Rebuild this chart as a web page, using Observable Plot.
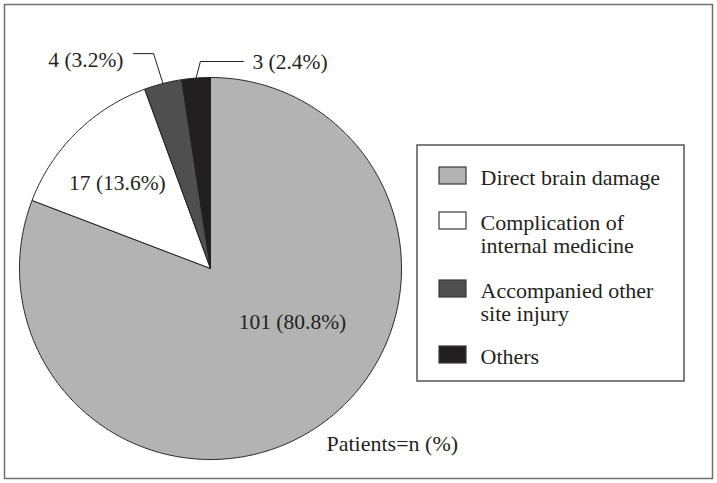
<!DOCTYPE html>
<html><head><meta charset="utf-8">
<script src="https://cdn.jsdelivr.net/npm/d3@7"></script>
<script src="https://cdn.jsdelivr.net/npm/@observablehq/plot@0.6"></script>
<style>body{margin:0;background:#fff} #chart svg{display:block}</style>
</head><body><div id="chart"></div>
<script>
// ---- data ----
const categories = ["Direct brain damage", "Complication of internal medicine", "Accompanied other site injury", "Others"];
const legendLabels = ["Direct brain damage", "Complication of\ninternal medicine", "Accompanied other\nsite injury", "Others"];
const counts = [101, 17, 4, 3];
const percents = [80.8, 13.6, 3.2, 2.4];
const sliceColors = ["#b3b3b3", "#ffffff", "#4f4f4f", "#231f20"];
const note = "Patients=n (%)";

// ---- layout ----
const W = 717, H = 483;
const cx = 210, cy = 268, R = 191;
const font = "Liberation Serif";
const ink = "#231f20";
// inside labels: polar (fraction of radius, degrees clockwise from top)
const insideLabel = {0: {rho: 0.514, deg: 123.4}, 1: {rho: 0.66, deg: 312.4}};
// leader lines for small slices: elbow in polar, then horizontal leg
const leaders = {2: {rho: 1.164, deg: 345.15, leg: -20, gap: -10, dyText: 7},
                 3: {rho: 1.085, deg: 357.2, leg: 43, gap: 9, dyText: 1}};
const legendBox = {x1: 417, x2: 684, y1: 145, y2: 381};
const legendBaselines = [184, 229, 297, 363];
const swatchX = [439, 466], swatchH = 17, legendTextX = 480;
const notePos = {x: 326, baseline: 450};

// ---- geometry from data ----
const arcs = d3.pie().sort(null).value(d => d)(counts);
const polar = (rho, a) => [cx + rho * Math.sin(a), cy - rho * Math.cos(a)];
const rad = d => d * Math.PI / 180;

const slicePts = [];
arcs.forEach((a, i) => {
  slicePts.push({i, x: cx, y: cy});
  const n = Math.max(2, Math.ceil((a.endAngle - a.startAngle) / (Math.PI / 360)));
  for (let k = 0; k <= n; k++) {
    const t = a.startAngle + (a.endAngle - a.startAngle) * k / n;
    const [x, y] = polar(R, t);
    slicePts.push({i, x, y});
  }
  slicePts.push({i, x: cx, y: cy});
});

const labelText = i => `${counts[i]} (${percents[i]}%)`;
const inside = Object.entries(insideLabel).map(([i, l]) => {
  const [x, y] = polar(R * l.rho, rad(l.deg));
  return {x, y, text: labelText(+i)};
});

const leaderPts = [], outside = [];
Object.entries(leaders).forEach(([k, l]) => {
  const i = +k, a = arcs[i];
  const mid = (a.startAngle + a.endAngle) / 2;
  const [x0, y0] = polar(R, mid);
  const [x1, y1] = polar(R * l.rho, rad(l.deg));
  const x2 = x1 + l.leg;
  leaderPts.push({i, x: x0, y: y0}, {i, x: x1, y: y1}, {i, x: x2, y: y1});
  outside.push({x: x2 + l.gap, y: y1 + l.dyText, text: labelText(i), anchor: l.leg < 0 ? "end" : "start"});
});

const legendRows = categories.map((c, i) => ({
  i, label: legendLabels[i], base: legendBaselines[i]
}));

const chart = Plot.plot({
  width: W, height: H,
  margin: 0,
  x: {domain: [0, W], range: [0, W], axis: null},
  y: {domain: [0, H], range: [0, H], axis: null},
  color: {type: "identity"},
  style: {background: "#fff"},
  marks: [
    Plot.frame({stroke: "#707070", strokeWidth: 1.5, insetLeft: 4, insetTop: 4, insetRight: 5, insetBottom: 5}),
    Plot.line(slicePts, {x: "x", y: "y", z: "i", fill: d => sliceColors[d.i], stroke: ink, strokeWidth: 1, strokeLinejoin: "round"}),
    Plot.line(leaderPts, {x: "x", y: "y", z: "i", stroke: ink, strokeWidth: 1}),
    Plot.text(inside, {x: "x", y: "y", text: "text", fontFamily: font, fontSize: 21.5, fill: ink}),
    Plot.text(outside.filter(d => d.anchor === "end"), {x: "x", y: "y", text: "text", textAnchor: "end", fontFamily: font, fontSize: 21.5, fill: ink}),
    Plot.text(outside.filter(d => d.anchor === "start"), {x: "x", y: "y", text: "text", textAnchor: "start", fontFamily: font, fontSize: 21.5, fill: ink}),
    Plot.rect([legendBox], {x1: "x1", x2: "x2", y1: "y1", y2: "y2", fill: "none", stroke: "#555", strokeWidth: 1.5}),
    Plot.rect(legendRows, {x1: () => swatchX[0], x2: () => swatchX[1], y1: d => d.base - swatchH, y2: d => d.base, fill: d => sliceColors[d.i], stroke: "#3a3a3a", strokeWidth: 1.2}),
    Plot.text(legendRows, {x: () => legendTextX, y: d => d.base, text: "label", textAnchor: "start", lineAnchor: "top", dy: -15.6, lineHeight: 1.05, fontFamily: font, fontSize: 22, fill: ink}),
    Plot.text([note], {x: () => notePos.x, y: () => notePos.baseline, text: d => d, textAnchor: "start", lineAnchor: "bottom", fontFamily: font, fontSize: 22, fill: ink})
  ]
});
document.getElementById("chart").appendChild(chart);
</script>
</body></html>
